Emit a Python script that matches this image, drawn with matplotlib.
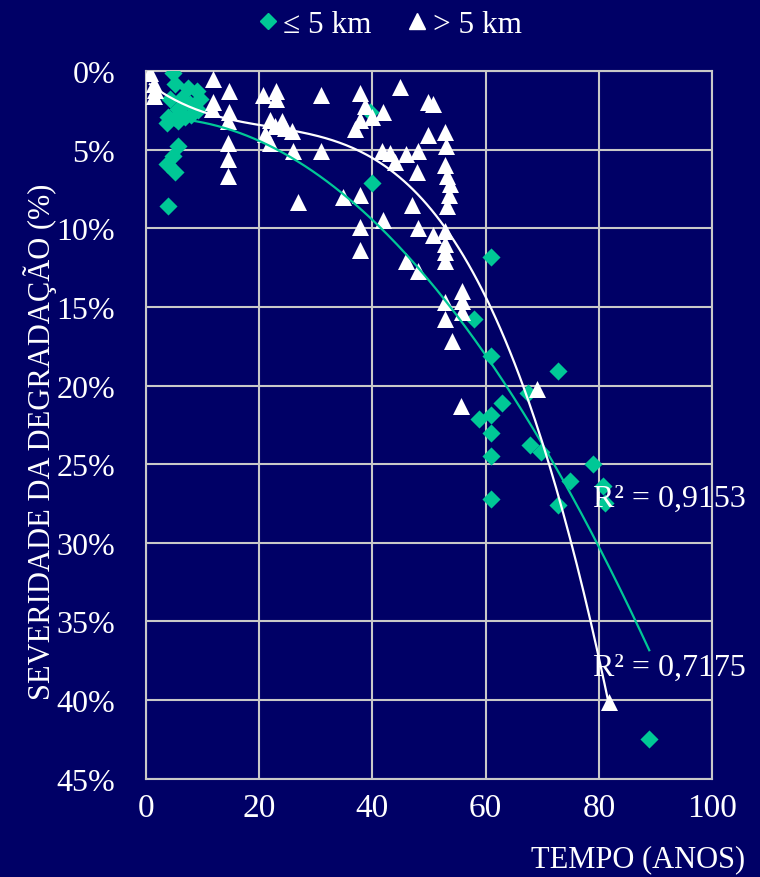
import numpy as np
import matplotlib
matplotlib.use("Agg")
import matplotlib.pyplot as plt
from matplotlib.lines import Line2D

# ---- data: <= 5 km (diamonds) ----
near_x = [4.8, 5.1, 7.4, 9.0, 6.4, 9.5, 4.2, 7.8, 5.7, 9.2, 3.9, 6.9, 5.1, 3.7, 5.7, 8.0,
          5.7, 4.8, 3.7, 5.1, 3.9,
          39.5, 40.0,
          60.9, 58.0, 60.9, 72.8, 67.5, 62.9, 58.8, 60.9, 60.9, 67.8, 69.8, 60.9,
          79.0, 74.9, 80.7, 81.0, 60.9, 72.8, 88.9]
near_y = [0.1, 0.8, 1.1, 1.3, 1.7, 1.8, 1.8, 2.1, 2.4, 2.5, 2.9, 2.9, 3.0, 3.3, 3.2, 2.8,
          4.8, 5.4, 5.9, 6.4, 8.6,
          2.6, 7.1,
          11.8, 15.8, 18.1, 19.1, 20.5, 21.1, 22.1, 21.9, 23.0, 23.8, 24.2, 24.5,
          25.0, 26.1, 26.4, 27.5, 27.2, 27.6, 42.5]

# ---- data: > 5 km (triangles) ----
far_x = [0.7, 1.5, 1.6, 1.5, 11.8, 14.7, 11.8, 11.7, 14.7, 14.5, 14.5, 14.5, 14.5,
         20.7, 23.0, 23.0, 30.9, 37.8, 38.7, 21.9, 24.0, 21.0, 22.8, 24.6, 25.8, 21.9,
         26.0, 30.9, 36.9, 37.8, 39.9, 34.8, 37.8, 26.9,
         44.9, 49.8, 50.7, 41.9, 49.8, 52.8, 53.0, 41.7, 43.1, 44.0, 45.9, 48.1,
         52.8, 53.2, 53.7, 47.9, 53.5, 47.0, 53.2, 50.7, 52.8, 52.8, 52.8, 52.8,
         48.1, 45.9, 48.1, 55.8, 55.8, 55.8, 52.8, 52.8, 54.0, 55.7, 69.0, 81.8,
         37.8, 37.8, 41.9]
far_y = [0.1, 0.8, 1.2, 1.6, 0.5, 1.3, 2.0, 2.4, 2.6, 3.2, 4.6, 5.6, 6.7,
         1.5, 1.3, 1.8, 1.5, 1.4, 2.2, 3.1, 3.2, 4.0, 3.5, 3.6, 3.8, 4.6,
         5.1, 5.1, 3.7, 3.1, 2.9, 8.0, 7.9, 8.3,
         1.0, 2.0, 2.1, 2.6, 4.1, 3.9, 4.8, 5.1, 5.2, 5.8, 5.3, 5.1,
         6.0, 6.7, 7.2, 6.4, 7.9, 8.5, 8.6, 10.4, 10.2, 11.0, 11.5, 12.1,
         10.0, 12.1, 12.7, 14.0, 14.6, 15.3, 14.7, 15.8, 17.2, 21.3, 20.2, 40.1,
         9.9, 11.4, 9.5]

r2_labels = ["R² = 0,9153", "R² = 0,7175"]
legend_labels = ["≤ 5 km", "> 5 km"]
x_ticks = [0, 20, 40, 60, 80, 100]
y_ticks = [0, 5, 10, 15, 20, 25, 30, 35, 40, 45]

BG = "#000066"
TEAL = "#00C896"
GRID = "#C8C8C8"

plt.rcParams['font.family'] = ['Liberation Serif', 'DejaVu Serif']

fig = plt.figure(figsize=(7.6, 8.78), dpi=100, facecolor=BG)
ax = fig.add_axes([0.192, 0.112, 0.745, 0.806], facecolor=BG)

ax.set_xlim(0, 100)
ax.set_ylim(45, 0)
ax.set_xticks(x_ticks)
ax.set_yticks(y_ticks)
ax.set_yticklabels([f"{v}%" for v in y_ticks])
ax.grid(True, color=GRID, linewidth=1.5)
ax.set_axisbelow(True)
for s in ax.spines.values():
    s.set_color(GRID)
    s.set_linewidth(1.5)
ax.tick_params(axis="y", colors="white", labelsize=23, length=0, pad=22)
ax.tick_params(axis="x", colors="white", labelsize=24, length=0, pad=10)

# trendlines (polynomial fits of the data, as in the spreadsheet)
nx, ny = np.array(near_x), np.array(near_y)
fx, fy = np.array(far_x), np.array(far_y)
cn = np.polyfit(nx, ny, 2)
cf = np.polyfit(fx, fy, 3)
xn = np.linspace(nx.min(), nx.max(), 200)
xf = np.linspace(fx.min(), fx.max(), 200)

ax.scatter(nx, ny, marker="D", s=85, color=TEAL, zorder=3, linewidths=0)
ax.scatter(fx, fy, marker="^", s=150, color="white", zorder=4, linewidths=0)
ax.plot(xn, np.polyval(cn, xn), color=TEAL, lw=1.6, zorder=5)
ax.plot(xf, np.polyval(cf, xf), color="white", lw=1.6, zorder=5)

ax.text(79.0, 27.2, r2_labels[0], color="white", fontsize=23, va="center", ha="left", zorder=6)
ax.text(79.0, 37.9, r2_labels[1], color="white", fontsize=23, va="center", ha="left", zorder=6)

fig.text(40 / 760, 1 - 442 / 878, "SEVERIDADE DA DEGRADAÇÃO (%)", color="white",
         fontsize=22, rotation=90, ha="center", va="center")
fig.text(745 / 760, 1 - 860 / 878, "TEMPO (ANOS)", color="white",
         fontsize=22, ha="right", va="center")

handles = [Line2D([], [], marker="D", color=TEAL, ls="none", markersize=8),
           Line2D([], [], marker="^", color="white", ls="none", markersize=11)]
fig.legend(handles, legend_labels, loc="upper center", bbox_to_anchor=(0.51, 1.02),
           ncol=2, frameon=False, fontsize=22.5, labelcolor="white",
           handletextpad=0.05, columnspacing=1.0, handlelength=0.9)

fig.savefig("out.png", dpi=100, facecolor=BG)
